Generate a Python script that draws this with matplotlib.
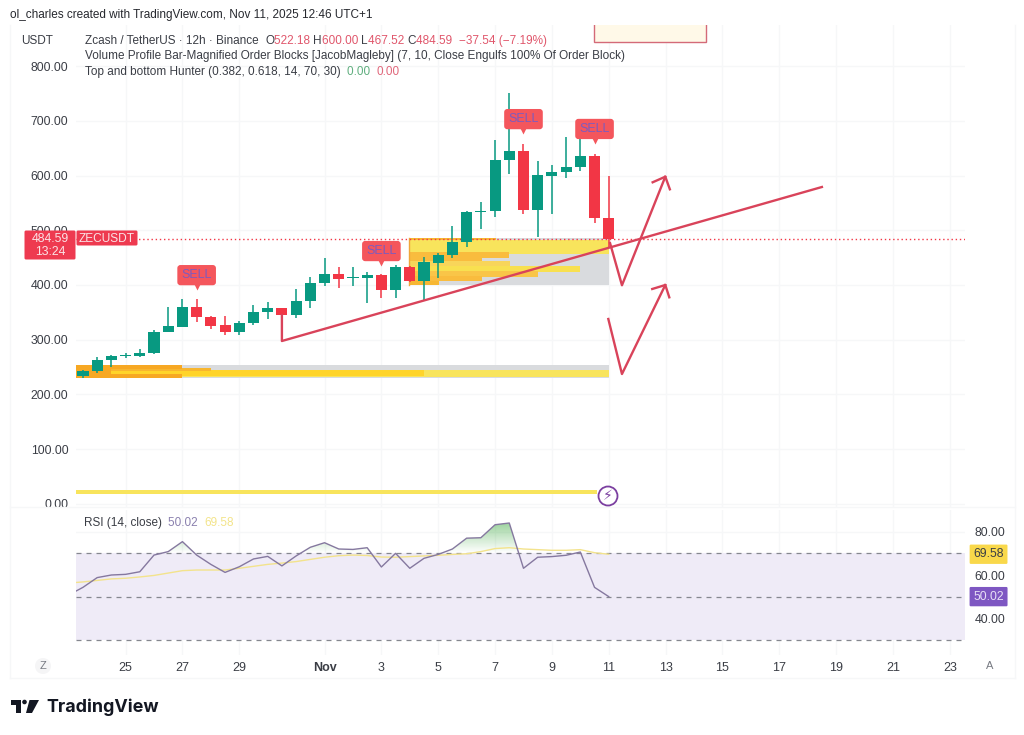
# -*- coding: utf-8 -*-
"""
ZEC/USDT 12h candles with volume profile blocks, drawn lines and RSI pane.
"""
import matplotlib

matplotlib.use("Agg")
import matplotlib.pyplot as plt
import numpy as np
from matplotlib.patches import Circle, FancyBboxPatch, Polygon, Rectangle

plt.rcParams["font.family"] = ["Liberation Sans", "DejaVu Sans"]

# === candles, one every 12h from Oct 23 12:00 ===
opens = [233, 242, 263, 270, 270, 275, 315, 324, 359, 341, 327, 315, 331, 351,
         358, 345, 371, 404, 421, 412, 413, 418, 391, 433, 408, 441, 455, 478,
         533, 535, 628, 645, 537, 600, 606, 615, 636, 522.18]
highs = [244, 269, 272, 275, 284, 318, 359, 374, 374, 343, 343, 335, 363, 369,
         358, 392, 414, 449, 432, 432, 423, 420, 436, 435, 452, 459, 508, 536,
         551, 665, 750, 658, 627, 619, 670, 670, 640, 600]
lows = [230, 240, 250, 266, 268, 274, 314, 323, 333, 320, 308, 309, 327, 337,
        340, 340, 358, 399, 394, 398, 368, 377, 376, 405, 372, 412, 449, 470,
        502, 525, 602, 529, 488, 529, 595, 608, 513, 467.52]
closes = [243, 263, 270, 272, 276, 315, 325, 359, 341, 326, 315, 331, 351, 358,
          345, 371, 404, 421, 411, 414, 418, 391, 433, 408, 442, 455, 479, 533,
          535, 628, 645, 537, 601, 606, 616, 636, 522, 484.59]

# RSI starts one candle before the first visible one
rsi_values = [50.8, 54.3, 58.8, 60, 60.3, 61.5, 69.2, 70.8, 75.4, 69.2, 64.9,
              61.2, 63.8, 67.4, 68.6, 64.2, 68.8, 72.8, 74.9, 72, 71.8, 72.6,
              63.7, 70, 63.1, 67.7, 69.5, 72, 77, 77.2, 83.2, 84, 63.1, 68.2,
              68.5, 69.1, 70.6, 54.3, 50.02]
rsi_ma = [56.3, 56.8, 57.5, 58.2, 58.5, 59.1, 59.8, 60.9, 62, 62.3, 62.3, 62.3,
          63.1, 64, 64.9, 65.5, 66.2, 67.2, 68.2, 68.9, 69.2, 69, 68.3, 68.2,
          68.5, 68.8, 69.1, 69.5, 69.8, 70.8, 72.2, 72.6, 72, 71.7, 71.4, 71.4,
          71.7, 70.3, 69.58]

# time axis
tick_pos = [3, 7, 11, 17, 21, 25, 29, 33, 37, 41, 45, 49, 53, 57, 61]
tick_labels = ["25", "27", "29", "Nov", "3", "5", "7", "9", "11", "13", "15",
               "17", "19", "21", "23"]
price_ticks = [0, 100, 200, 300, 400, 500, 600, 700, 800]
rsi_ticks = [40, 60, 80]

# SELL markers
sell_x = [8, 21, 31, 36]
sell_y = [418, 462, 703, 685]

# volume profile rows: left, right, bottom, top
upper_rows = [
    (22.94, 37, 400, 485, "#D9DBDE"),
    (22.94, 37, 456, 481.6, "#F8E45C"),
    (22.94, 29.04, 481.6, 485, "#F7B733"),
    (22.94, 30, 450, 461, "#F9BC3E"),
    (22.94, 28.05, 442.6, 450, "#F9BC3E"),
    (22.94, 30.05, 433.5, 444, "#F8D55A"),
    (22.94, 35, 424, 435, "#F8E050"),
    (22.94, 32, 415, 425.5, "#F9C548"),
    (22.94, 28.05, 407, 417, "#F9BC3E"),
    (22.94, 25.05, 400, 407, "#F7B733"),
]
lower_rows = [
    (-0.49, 37, 231, 253.9, "#D9DBDE"),
    (-0.49, 37, 232, 244, "#F8E45C"),
    (-0.49, 24, 233.5, 245, "#FFD42A"),
    (-0.49, 9, 243.8, 249.3, "#F8B62F"),
    (-0.49, 7, 246.6, 253.9, "#F7A823"),
    (-0.49, 7, 231, 236.9, "#F7A823"),
    (-0.49, 2, 236.9, 246.6, "#F7A823"),
]
bottom_row = (-0.49, 36.2, 18.3, 25.6, "#F8E45C")

# hand drawn lines on the chart
trend_x = [14, 14, 52]
trend_y = [345, 297.7, 579]
arrow1_x = [37.09, 37.93, 40.98]
arrow1_y = [476.7, 399.5, 597.8]
head1_x = [40.09, 40.98, 41.3]
head1_y = [587.6, 597.8, 574.8]
arrow2_x = [36.97, 37.93, 40.98]
arrow2_y = [337.9, 237.4, 400]
head2_x = [40.06, 40.98, 41.26]
head2_y = [392.7, 400, 377.5]

GREEN = "#089981"
RED = "#F23645"
DRAW_RED = "#D9435A"
GRID = "#F6F7F8"
TEXT = "#3A3D45"
W, H = 1024.0, 735.0

fig = plt.figure(figsize=(10.24, 7.35), dpi=100, facecolor="white")
ax = fig.add_axes([76 / W, 1 - 507 / H, 889 / W, 482 / H])
ax_rsi = fig.add_axes([76 / W, 1 - 655 / H, 889 / W, 145 / H])
ax_rsi.patch.set_alpha(0)

# === price pane ===
x = np.arange(len(closes))
opens_a, closes_a = np.array(opens), np.array(closes)
colors = [GREEN if c >= o else RED for o, c in zip(opens, closes)]
for row in upper_rows + lower_rows + [bottom_row]:
    ax.add_patch(Rectangle((row[0], row[2]), row[1] - row[0], row[3] - row[2],
                           facecolor=row[4], edgecolor="none", zorder=2))
ax.plot([22.94, 22.94], [400, 485], color="#F0A63A", lw=1, zorder=2)
ax.vlines(x, lows, highs, colors=colors, lw=1.1, zorder=3)
ax.bar(x, np.abs(closes_a - opens_a), bottom=np.minimum(opens_a, closes_a),
       width=0.78, color=colors, zorder=4)
ax.axhline(closes[-1], color=RED, ls=(0, (1, 2)), lw=1, zorder=3)

# box that runs off the top of the pane
ax.add_patch(Rectangle((35.96, 843.8), 7.9, 80, facecolor="#FFF9E8",
                       edgecolor="#D46A78", lw=1, zorder=2))

ax.plot(trend_x, trend_y, color=DRAW_RED, lw=1.7, zorder=5)
for xs, ys in [(arrow1_x, arrow1_y), (head1_x, head1_y),
               (arrow2_x, arrow2_y), (head2_x, head2_y)]:
    ax.plot(xs, ys, color=DRAW_RED, lw=1.7, zorder=5)

for sx, sy in zip(sell_x, sell_y):
    ax.text(sx, sy, "SELL", color="#7D5BBE", fontsize=9, ha="center",
            va="center", zorder=7,
            bbox=dict(boxstyle="round,pad=0.33,rounding_size=0.25",
                      fc="#F4565C", ec="none"))
    ax.plot(sx, sy - 20, marker="v", ms=5.5, color="#F4565C", mec="none",
            zorder=6)

ax.set_xlim(-0.49, 62.07)
ax.set_ylim(-5.5, 874.9)
ax.set_yticks(price_ticks)
ax.set_yticklabels(["%.2f" % p for p in price_ticks])
ax.set_xticks(tick_pos)
ax.tick_params(axis="x", length=0, labelbottom=False)
ax.tick_params(axis="y", length=0, pad=5.5, labelsize=8.8, labelcolor=TEXT)
ax.grid(True, color=GRID, lw=1)
ax.set_axisbelow(True)
for sp in ax.spines.values():
    sp.set_visible(False)

# === RSI pane ===
rsi_x = np.arange(-1, len(closes))
rsi_a = np.array(rsi_values)
ax_rsi.axhspan(30, 70, color="#EFEBF7", lw=0, zorder=1)
for level in [30, 50, 70]:
    ax_rsi.axhline(level, color="#85878F", lw=0.9, ls=(0, (4, 4)), zorder=2)

# green gradient where RSI is over 70
grad = np.zeros((64, 2, 4))
grad[..., 0] = 0.30
grad[..., 1] = 0.69
grad[..., 2] = 0.31
grad[..., 3] = np.linspace(0.6, 0.0, 64)[:, None]
fills = ax_rsi.fill_between(rsi_x, rsi_a, 70, where=rsi_a >= 70, interpolate=True,
                            facecolor="none", edgecolor="none")
for path in fills.get_paths():
    im = ax_rsi.imshow(grad, extent=[-1, 38, 70, 85], aspect="auto", zorder=2)
    im.set_clip_path(path, transform=ax_rsi.transData)

ax_rsi.plot(rsi_x, rsi_ma, color="#F3E38C", lw=1.0, zorder=3)
ax_rsi.plot(rsi_x, rsi_values, color="#85789F", lw=1.0, zorder=4)
ax_rsi.set_xlim(-0.49, 62.07)
ax_rsi.set_ylim(23.08, 90)
ax_rsi.yaxis.tick_right()
ax_rsi.set_yticks(rsi_ticks)
ax_rsi.set_yticklabels(["%.2f" % r for r in rsi_ticks])
ax_rsi.set_xticks(tick_pos)
ax_rsi.set_xticklabels(tick_labels)
ax_rsi.get_xticklabels()[3].set_fontweight("bold")
ax_rsi.tick_params(axis="x", length=0, pad=5, labelsize=9, labelcolor=TEXT)
ax_rsi.tick_params(axis="y", length=0, pad=7, labelsize=8.8, labelcolor=TEXT)
ax_rsi.grid(True, color=GRID, lw=1)
ax_rsi.set_axisbelow(True)
for sp in ax_rsi.spines.values():
    sp.set_visible(False)

# last value tags on the RSI scale
tag_trans = ax_rsi.get_yaxis_transform()
ax_rsi.text(1.0265, rsi_ma[-1], "%.2f" % rsi_ma[-1], transform=tag_trans,
            ha="center", va="center", fontsize=8.8, color=TEXT, clip_on=False,
            bbox=dict(boxstyle="round,pad=0.3,rounding_size=0.1",
                      fc="#F9D84A", ec="none"))
ax_rsi.text(1.0265, rsi_values[-1], "%.2f" % rsi_values[-1], transform=tag_trans,
            ha="center", va="center", fontsize=8.8, color="#E8E0F6", clip_on=False,
            bbox=dict(boxstyle="round,pad=0.3,rounding_size=0.1",
                      fc="#7E57C2", ec="none"))

# === overlay in pixel units for the chart chrome ===
over = fig.add_axes([0, 0, 1, 1], zorder=20)
over.set_xlim(0, W)
over.set_ylim(H, 0)
over.axis("off")
over.patch.set_alpha(0)

# faint frame lines
for xs, ys in [([10, 1015], [507, 507]), ([10, 1015], [678, 678]),
               ([1015, 1015], [25, 678]), ([10, 10], [25, 678])]:
    over.plot(xs, ys, color="#F6F7F8", lw=1, zorder=1)

over.text(10, 15, "ol_charles created with TradingView.com, Nov 11, 2025 12:46 UTC+1",
          fontsize=8.5, color="#26282E", va="center")
over.text(21, 41, "USDT", fontsize=8.5, color=TEXT, va="center")


def chain(px, py, parts, size=8.5):
    # write coloured pieces one after the other
    rend = fig.canvas.get_renderer()
    for s, col in parts:
        t = over.text(px, py, s, fontsize=size, color=col, va="center")
        px = t.get_window_extent(rend).x1


LG_RED = "#E0566B"
chain(85, 41, [("Zcash / TetherUS · 12h · Binance  ", TEXT), ("O", TEXT), ("522.18 ", LG_RED),
               ("H", TEXT), ("600.00 ", LG_RED), ("L", TEXT), ("467.52 ", LG_RED),
               ("C", TEXT), ("484.59  ", LG_RED), ("−37.54 (−7.19%)", LG_RED)])
chain(85, 56, [("Volume Profile Bar-Magnified Order Blocks [JacobMagleby] "
                "(7, 10, Close Engulfs 100% Of Order Block)", TEXT)])
chain(85, 72, [("Top and bottom Hunter (0.382, 0.618, 14, 70, 30)  ", TEXT),
               ("0.00  ", "#5FAE7E"), ("0.00", "#E0667A")])
chain(84, 523, [("RSI (14, close)  ", TEXT), ("50.02  ", "#8A80AE"), ("69.58", "#F3E48A")])

# price tag and symbol tag
for bx, by, bw, bh in [(25, 231, 50, 28), (77, 231, 60, 14)]:
    over.add_patch(FancyBboxPatch((bx, by), bw, bh, boxstyle="round,pad=0.5,rounding_size=1.5",
                                  facecolor="#EE3A50", edgecolor="none", zorder=3))
over.text(50, 238.5, "484.59", color="#FBE3E6", fontsize=8.8, ha="center", va="center", zorder=4)
over.text(50, 252, "13:24", color="#FBE3E6", fontsize=8.8, ha="center", va="center", zorder=4)
over.text(107, 238.5, "ZECUSDT", color="#FBE3E6", fontsize=8.6, ha="center", va="center", zorder=4)

# lightning badge
over.add_patch(Circle((608, 496), 9.5, facecolor="white", edgecolor="#7B3FA0", lw=1.3, zorder=3))
over.text(608, 496, "\u26a1", color="#7B3FA0", fontsize=10, ha="center", va="center", zorder=4,
          family=["DejaVu Sans"])

# Z and A buttons
over.add_patch(Circle((43, 666), 8, facecolor="#F5F5F6", edgecolor="none", zorder=3))
over.text(43, 666, "Z", color="#777A82", fontsize=8, ha="center", va="center", zorder=4)
over.text(990, 666, "A", color="#777A82", fontsize=8, ha="center", va="center", zorder=4)

# TradingView logo
over.add_patch(Polygon([[11, 700], [21, 700], [21, 713], [16, 713], [16, 704.5], [11, 704.5]],
                       facecolor="#131722", edgecolor="none"))
over.add_patch(Circle((24.5, 702), 2.3, facecolor="#131722", edgecolor="none"))
over.add_patch(Polygon([[29.5, 700], [39, 700], [32, 713], [26, 713]],
                       facecolor="#131722", edgecolor="none"))
over.text(46.5, 707, "TradingView", fontsize=12.9, fontweight="bold", color="#131722",
          va="center", family=["Inter", "Liberation Sans"])

fig.savefig("out.png", dpi=100)
plt.close()
